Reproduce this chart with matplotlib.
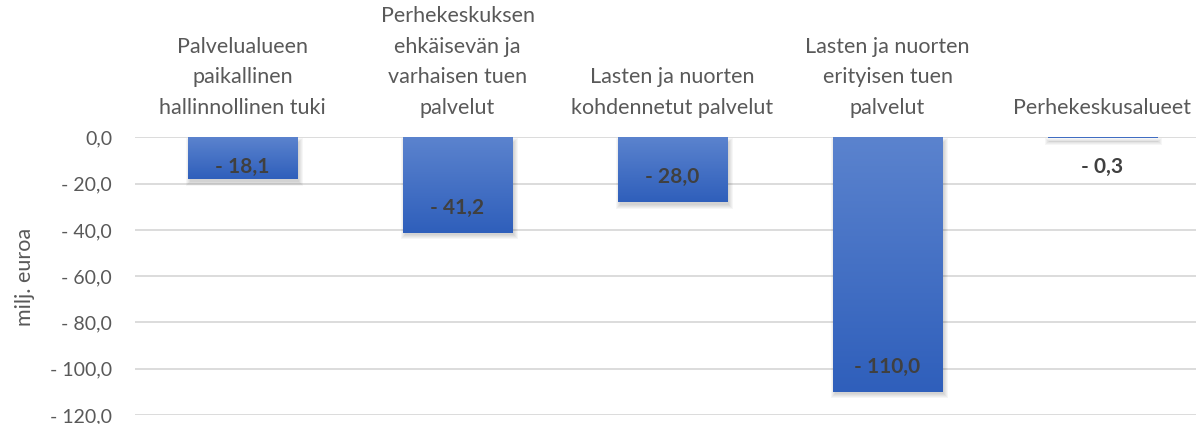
import matplotlib
matplotlib.use("Agg")
import matplotlib.pyplot as plt
import matplotlib.transforms as mtransforms
from matplotlib.colors import LinearSegmentedColormap
from matplotlib.patches import Rectangle
import numpy as np

categories = [
    "Palvelualueen\npaikallinen\nhallinnollinen tuki",
    "Perhekeskuksen\nehkäisevän ja\nvarhaisen tuen\npalvelut",
    "Lasten ja nuorten\nkohdennetut palvelut",
    "Lasten ja nuorten\nerityisen tuen\npalvelut",
    "Perhekeskusalueet",
]
values = [-18.1, -41.2, -28.0, -110.0, -0.3]
yticks = [0, -20, -40, -60, -80, -100, -120]
ytick_labels = ["0,0", "- 20,0", "- 40,0", "- 60,0", "- 80,0", "- 100,0", "- 120,0"]

plt.rcParams['font.family'] = ['Lato', 'DejaVu Sans']

W, H = 1196, 424
fig = plt.figure(figsize=(W / 100, H / 100), dpi=100)
ax_rect = [0.1129, 0.0212, 0.8988, 0.6547]
ax = fig.add_axes(ax_rect)

grad = LinearSegmentedColormap.from_list("g", ["#5B83CE", "#2F5FBB"])
x = np.arange(len(values))
width = 0.507
ax.set_xlim(-0.5, len(values) - 0.5)
ax.set_ylim(-120, 0)

# data units per pixel (for the soft shadow)
px_x = len(values) / (ax_rect[2] * W)
px_y = 120 / (ax_rect[3] * H)

for xi, v in zip(x, values):
    x0, x1 = xi - width / 2, xi + width / 2
    # soft shadow: stacked translucent rectangles, offset down-right
    for e in [4, 3, 2, 1, 0]:
        ax.add_patch(Rectangle((x0 - e * px_x + 1.5 * px_x, v - e * px_y - 2.5 * px_y),
                               width + 2 * e * px_x, -v + 2 * e * px_y - 2.5 * px_y,
                               facecolor='#000000', edgecolor='none', alpha=0.035,
                               zorder=2))
    ax.add_patch(Rectangle((x0, v), width, -v, facecolor='#2F5FBB', edgecolor='none', zorder=2.5))
    im = ax.imshow(np.linspace(0, 1, 256).reshape(-1, 1), cmap=grad, aspect='auto',
                   extent=(x0, x1, v, 0), origin='upper', zorder=3, interpolation='bilinear')
    clip = Rectangle((x0, v), width, -v, transform=ax.transData, facecolor='none', edgecolor='none')
    ax.add_patch(clip)
    im.set_clip_path(clip)
    ly = min(v + 10.8, -12.8)
    lab = "- " + f"{abs(v):.1f}".replace(".", ",")
    ax.text(xi, ly, lab, ha='center', va='center', fontsize=15, fontweight='bold',
            color='#404040', zorder=5)

ax.set_xlim(-0.5, len(values) - 0.5)
ax.set_ylim(-120, 0)
ax.set_yticks(yticks)
ax.set_yticklabels(ytick_labels, fontsize=14, color='#595959')
ax.tick_params(axis='y', length=0, pad=16.5)
ax.set_xticks([])
ax.grid(axis='y', color='#D9D9D9', linewidth=1.3, zorder=0)
ax.set_axisbelow(True)
for s in ax.spines.values():
    s.set_visible(False)

trans = mtransforms.blended_transform_factory(ax.transData, ax.transAxes)
for i, c in enumerate(categories):
    ax.text(x[i], 1.07, c, transform=trans, ha='center', va='bottom',
            fontsize=15.5, color='#595959', linespacing=1.67, clip_on=False)

fig.text(0.0209, 0.347, "milj. euroa", rotation=90, ha='center', va='center',
         fontsize=15.5, color='#595959')

fig.savefig("out.png", dpi=100)
